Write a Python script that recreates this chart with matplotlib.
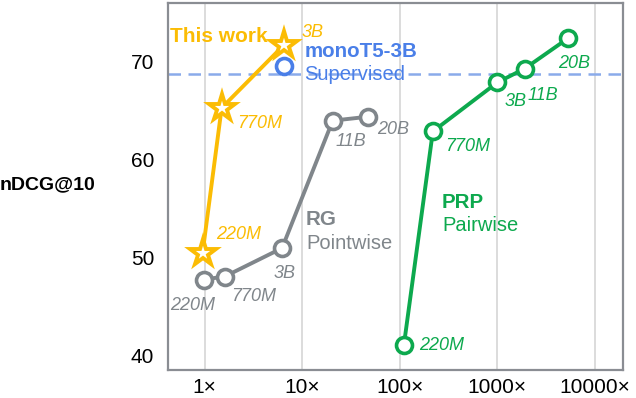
import matplotlib.pyplot as plt
from matplotlib.markers import MarkerStyle

plt.rcParams['font.family'] = ['Liberation Sans', 'DejaVu Sans']

YELLOW = '#FBBC04'
GRAY = '#80868B'
GREEN = '#0DA94E'
BLUE = '#4A7FE8'
BLUE_LINE = '#8AABEA'

# relative cost (x) and nDCG@10 (y)
ours_x = [0.95, 1.49, 6.46]
ours_y = [50.5, 65.3, 71.7]
ours_lab = ['220M', '770M', '3B']

rg_x = [0.98, 1.6, 6.2, 20.5, 47]
rg_y = [47.8, 48.1, 51.0, 64.0, 64.4]
rg_lab = ['220M', '770M', '3B', '11B', '20B']

prp_x = [110, 218, 1000, 1900, 5300]
prp_y = [41.1, 62.9, 67.9, 69.3, 72.4]
prp_lab = ['220M', '770M', '3B', '11B', '20B']

mono_x = 6.46
mono_y = 69.6
supervised_line = 68.8

xticks = [1, 10, 100, 1000, 10000]
xticklabels = ['1×', '10×', '100×', '1000×', '10000×']
yticks = [40, 50, 60, 70]

fig = plt.figure(figsize=(6.36, 3.98), dpi=100)
ax = fig.add_axes([168 / 636, 28 / 398, 455 / 636, 367 / 398])
ax.set_xscale('log')
ax.set_xlim(0.42, 19400)
ax.set_ylim(38.57, 76.0)

for x in xticks:
    ax.axvline(x, color='#d5d5d5', lw=1.2, zorder=0)
ax.axhline(supervised_line, color=BLUE_LINE, lw=1.8, ls=(0, (5, 3)), zorder=1)

ax.plot(rg_x, rg_y, '-o', color=GRAY, lw=2.8, ms=11.5, mfc='white', mew=2.6, zorder=3)
ax.plot(prp_x, prp_y, '-o', color=GREEN, lw=2.8, ms=11.5, mfc='white', mew=2.6, zorder=3)
ax.plot([mono_x], [mono_y], 'o', color=BLUE, ms=11.5, mfc='white', mew=2.6, zorder=3)
star = MarkerStyle('*', joinstyle='miter')
ax.plot(ours_x, ours_y, '-', color=YELLOW, lw=2.8, marker=star, ms=20, mfc='white', mew=2.8, zorder=4)

lab = dict(fontsize=13, style='italic')
# point labels (offsets in points)
ours_off = [(10, 13), (11, -11), (13, 9)]
for x, y, t, o in zip(ours_x, ours_y, ours_lab, ours_off):
    ax.annotate(t, (x, y), xytext=o, textcoords='offset points', color=YELLOW, va='center', **lab)
rg_off = [(-24, -19), (4.5, -14.5), (-6, -18), (2, -15), (7, -9)]
for x, y, t, o in zip(rg_x, rg_y, rg_lab, rg_off):
    ax.annotate(t, (x, y), xytext=o, textcoords='offset points', color=GRAY, va='center', **lab)
prp_off = [(11, 0), (9, -11), (5, -14), (2, -19), (-7, -18)]
for x, y, t, o in zip(prp_x, prp_y, prp_lab, prp_off):
    ax.annotate(t, (x, y), xytext=o, textcoords='offset points', color=GREEN, va='center', **lab)

ax.annotate('This work', (ours_x[2], ours_y[2]), xytext=(-82, 6.5), textcoords='offset points',
            color=YELLOW, fontsize=15, fontweight='bold', va='center')
ax.annotate('monoT5-3B', (mono_x, mono_y), xytext=(15, 10), textcoords='offset points',
            color=BLUE, fontsize=14.8, fontweight='bold', va='center')
ax.annotate('Supervised', (mono_x, mono_y), xytext=(15, -6.5), textcoords='offset points',
            color=BLUE, fontsize=14.5, va='center')
ax.text(10.9, 53.9, 'RG', color=GRAY, fontsize=14.8, fontweight='bold', va='center')
ax.text(10.9, 51.5, 'Pointwise', color=GRAY, fontsize=14.5, va='center')
ax.text(10 ** 2.431, 55.7, 'PRP', color=GREEN, fontsize=14.8, fontweight='bold', va='center')
ax.text(10 ** 2.431, 53.3, 'Pairwise', color=GREEN, fontsize=14.5, va='center')

ax.set_xticks(xticks)
ax.set_xticklabels(xticklabels, fontsize=15)
ax.minorticks_off()
ax.set_yticks(yticks)
ax.set_yticklabels([str(v) for v in yticks], fontsize=15)
ax.tick_params(length=0, pad=6)
ax.tick_params(axis='y', pad=10)
for s in ax.spines.values():
    s.set_color('#8a8d93')
    s.set_linewidth(1.6)

fig.text(0, 1 - 185 / 398, 'nDCG@10', fontsize=14, fontweight='bold', va='center')

fig.savefig('out.png', dpi=100)
